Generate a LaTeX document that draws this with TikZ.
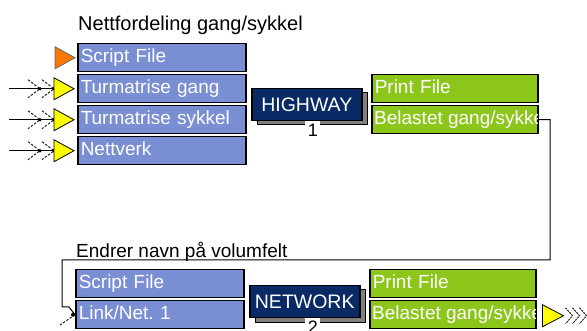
\documentclass[tikz,border=0pt]{standalone}
\usepackage{fontspec}
\setmainfont{Liberation Sans}
\usetikzlibrary{calc}
\definecolor{boxblue}{RGB}{122,142,212}
\definecolor{boxgreen}{RGB}{140,198,26}
\definecolor{appnavy}{RGB}{10,42,102}
\definecolor{shadowgray}{RGB}{128,128,128}
\definecolor{pinyellow}{RGB}{255,255,0}
\definecolor{pinorange}{RGB}{250,120,0}
\tikzset{
  filebox/.style={draw=black, line width=1.5pt, anchor=north west,
    minimum height=28pt, inner xsep=3pt, inner ysep=0pt,
    text=white, align=left, text height=15pt, text depth=5pt,
    font=\fontsize{19}{21}\selectfont},
  inbox/.style={filebox, fill=boxblue, text width=162pt},
  outbox/.style={filebox, fill=boxgreen, text width=160pt},
  appbox/.style={draw=black, line width=1.5pt, fill=appnavy, text=white,
    anchor=north west, minimum width=110pt, minimum height=32pt,
    inner sep=0pt, font=\fontsize{19.5}{21}\selectfont},
  appshadow/.style={draw=black, line width=1pt, fill=shadowgray},
  heading/.style={anchor=base west, inner sep=0pt, text=black},
  appnum/.style={anchor=base, inner sep=0pt, font=\fontsize{18}{20}\selectfont},
  conn/.style={draw=black, line width=1pt},
  feather/.style={draw=black!85, line width=1pt, dash pattern=on 2.5pt off 1.5pt},
  pinyel/.style={draw=black, line width=0.8pt, fill=pinyellow},
  pinora/.style={draw=black!60, line width=0.8pt, fill=pinorange},
}
\begin{document}
\frenchspacing
\begin{tikzpicture}[x=1pt, y=-1pt]
\useasboundingbox[fill=white] (0,0) rectangle (587,331);

% ---------- step 1: HIGHWAY ----------
\node[heading, font=\fontsize{20}{22}\selectfont] (t1) at (78,31) {Nettfordeling gang/sykkel};

\node[inbox] (sf1) at (77,43)  {Script File};
\node[inbox] (tg)  at (77,74)  {Turmatrise gang};
\node[inbox] (ts)  at (77,105) {Turmatrise sykkel};
\node[inbox] (nv)  at (77,136) {Nettverk};

% shadow, notch and number under the program box
\fill[appshadow] (257,93) rectangle (367,125);
\fill[white] (305,119) rectangle (320,127);
\node[appbox] (hw) at (251,88) {HIGHWAY};
\node[appnum] (hwn) at (313,137) {1};

\node[outbox] (pf1) at (371,74) {Print File};
\node[outbox] (bl1) at (371,105) {};
\begin{scope}
  \clip ($(bl1.north west)+(1,1)$) rectangle ($(bl1.south east)+(-1,-1)$);
  \node[anchor=west, inner xsep=3pt, inner ysep=0pt, text=white,
        text height=15pt, text depth=5pt, font=\fontsize{19}{21}\selectfont]
        (bl1t) at (bl1.west) {Belastet gang/sykkel};
\end{scope}

% input pins of step 1
\draw[pinora] ($(sf1.west)+(-2,0)$) -- ++(-20,-11) -- ++(0,22) -- cycle;
\foreach \b in {tg,ts,nv}{
  \coordinate (\b tip)  at ($(\b.west)+(-3,0)$);
  \coordinate (\b base) at ($(\b.west)+(-23,0)$);
  \coordinate (\b knot) at ($(\b.west)+(-37,0)$);
  \coordinate (\b in)   at ($(\b.west)+(-68,0)$);
  \draw[conn] (\b in) -- (\b base);
  \draw[feather] ($(\b knot)+(-12,-9)$) -- (\b knot) -- ($(\b knot)+(-12,9)$);
  \draw[feather] ($(\b base)+(-12,-9)$) -- (\b base) -- ($(\b base)+(-12,9)$);
  \fill (\b knot) circle (1.8);
  \fill (\b base) circle (1.8);
  \draw[pinyel] (\b tip) -- ($(\b base)+(0,-11)$) -- ($(\b base)+(0,11)$) -- cycle;
}

% ---------- step 2: NETWORK ----------
\node[heading, font=\fontsize{19}{21}\selectfont] (t2) at (76,258) {Endrer navn på volumfelt};

\node[inbox] (sf2) at (75,269) {Script File};
\node[inbox] (ln)  at (75,300) {Link/Net. 1};

\fill[appshadow] (255,290) rectangle (365,323);
\fill[white] (305,316) rectangle (320,324);
\node[appbox] (nw) at (249,285) {NETWORK};
\node[appnum] (nwn) at (313,334) {2};

\node[outbox] (pf2) at (369,269) {Print File};
\node[outbox] (bl2) at (369,300) {};
\begin{scope}
  \clip ($(bl2.north west)+(1,1)$) rectangle ($(bl2.south east)+(-1,-1)$);
  \node[anchor=west, inner xsep=3pt, inner ysep=0pt, text=white,
        text height=15pt, text depth=5pt, font=\fontsize{19}{21}\selectfont]
        (bl2t) at (bl2.west) {Belastet gang/sykkel};
\end{scope}

% output pin of step 2
\coordinate (otip) at ($(bl2.east)+(27,1)$);
\draw[pinyel] (otip) -- ++(-21,-11) -- ++(0,22) -- cycle;
\foreach \k in {0,7,14}{
  \draw[feather, dash pattern=on 2pt off 1pt]
    ($(otip)+(2+\k,-8)$) -- ($(otip)+(9+\k,0)$) -- ($(otip)+(2+\k,8)$);
}

% ---------- link from step 1 to step 2 ----------
\coordinate (c1) at (550,260);
\coordinate (c2) at (62,260);
\coordinate (c3) at (62,307);
\coordinate (c4) at (69,307);
\coordinate (c5) at (60,325);
\draw[conn] (bl1.east) -| (c1) -- (c2) -- (c3) -- (c4) -- (ln.west);
\draw[feather] (ln.west) -- (c5);
\fill ($(ln.west)+(-2,0)$) circle (2);
\end{tikzpicture}
\end{document}
